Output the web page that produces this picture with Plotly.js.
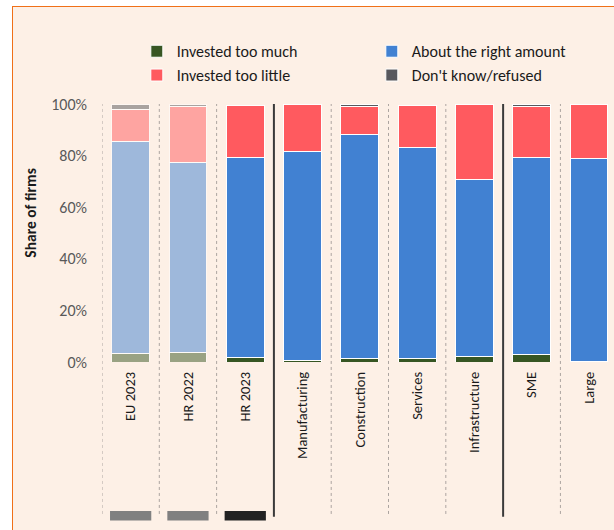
<!DOCTYPE html>
<html>
<head>
<meta charset="utf-8">
<script src="https://cdn.plot.ly/plotly-3.0.1.min.js"></script>
<style>
  body { margin: 0; background: #ffffff; }
  #frame {
    position: absolute; left: 12px; top: 6px; width: 602px; height: 524px;
    border-left: 1px solid #f07018; border-top: 1px solid #f07018;
    background: #fdf0e6; overflow: hidden;
  }
  #graph { width: 601px; height: 523px; }
</style>
</head>
<body>
<div id="frame"><div id="graph"></div></div>
<script>
// groups of firms
let categories = ['EU 2023', 'HR 2022', 'HR 2023', 'Manufacturing', 'Construction', 'Services', 'Infrastructure', 'SME', 'Large'];

// shares of firms, %
let tooMuch   = [3.2, 3.6, 1.6, 0.5, 1.3, 1.3, 2.2, 2.9, 0.2];
let rightAmt  = [82.1, 73.7, 77.5, 81.2, 87.0, 82.0, 68.5, 76.4, 78.8];
let tooLittle = [12.6, 21.6, 20.4, 18.1, 10.8, 16.1, 29.0, 19.8, 20.8];
let dontKnow  = [2.1, 0.9, 0.0, 0.0, 0.7, 0.0, 0.0, 0.6, 0.0];

// the first two columns are shown faded
let fade = [0.5, 0.5, 1, 1, 1, 1, 1, 1, 1];

let fontFam = 'Carlito, Calibri, Lato, sans-serif';

function makeTrace(name, values, color)
{
    return {
        x: categories,
        y: values,
        name: name,
        type: 'bar',
        width: 0.66,
        marker: {
            color: color,
            opacity: fade,
            line: { color: '#ffffff', width: 1 }
        },
        hoverinfo: 'name+y'
    };
}

let data = [
    makeTrace('Invested too much', tooMuch, '#375623'),
    makeTrace('About the right amount', rightAmt, '#4181d2'),
    makeTrace('Invested too little', tooLittle, '#ff5a5f'),
    makeTrace("Don't know/refused", dontKnow, '#58585d')
];

// separators between the groups of columns
let shapes = [];
let dotted = [-0.5, 0.5, 1.5, 3.5, 4.5, 5.5, 7.5];
let solid = [2.5, 6.5];

dotted.forEach(function(p) {
    shapes.push({
        type: 'line', xref: 'x', yref: 'paper',
        x0: p, x1: p, y0: -0.589, y1: 1,
        line: { color: '#aca4a0', width: 1, dash: 'dot' }
    });
});
solid.forEach(function(p) {
    shapes.push({
        type: 'line', xref: 'x', yref: 'paper',
        x0: p, x1: p, y0: -0.6, y1: 1,
        line: { color: '#3a3a3a', width: 2 }
    });
});

// little markers under the first three columns
let markColors = ['#808080', '#808080', '#222222'];
markColors.forEach(function(c, i) {
    shapes.push({
        type: 'rect', xref: 'x', yref: 'paper',
        x0: i - 0.36, x1: i + 0.36, y0: -0.614, y1: -0.578,
        fillcolor: c, line: { width: 0 }
    });
});

let layout = {
    width: 601,
    height: 523,
    margin: { l: 88.5, r: 0, t: 96.5, b: 167.5 },
    paper_bgcolor: '#fdf0e6',
    plot_bgcolor: '#fdf0e6',
    barmode: 'stack',
    font: { family: fontFam, size: 14, color: '#1a1a1a' },
    showlegend: true,
    legend: {
        orientation: 'h',
        traceorder: 'normal',
        x: 0.068, xanchor: 'left',
        y: 1.27, yanchor: 'top',
        entrywidth: 190,
        bgcolor: 'rgba(0,0,0,0)',
        font: { family: fontFam, size: 16, color: '#1a1a1a' },
        tracegroupgap: 0
    },
    xaxis: {
        type: 'category',
        range: [-0.5, 8.435],
        tickangle: -90,
        ticks: '',
        showgrid: false,
        showline: false,
        zeroline: false,
        ticklabelstandoff: 6,
        tickfont: { family: fontFam, size: 14.5, color: '#1a1a1a' }
    },
    yaxis: {
        range: [0, 100],
        tickvals: [0, 20, 40, 60, 80, 100],
        ticktext: ['0%', '20%', '40%', '60%', '80%', '100%'],
        ticks: '',
        showgrid: false,
        showline: false,
        zeroline: false,
        ticklabelstandoff: 14,
        tickfont: { family: fontFam, size: 16, color: '#595959' }
    },
    annotations: [{
        text: '<b>Share of firms</b>',
        xref: 'paper', yref: 'paper',
        x: -0.1396, y: 0.577,
        xanchor: 'center', yanchor: 'middle',
        textangle: -90,
        showarrow: false,
        font: { family: fontFam, size: 15.5, color: '#1a1a1a' }
    }],
    shapes: shapes
};

Plotly.newPlot('graph', data, layout, { displayModeBar: false });
</script>
</body>
</html>
